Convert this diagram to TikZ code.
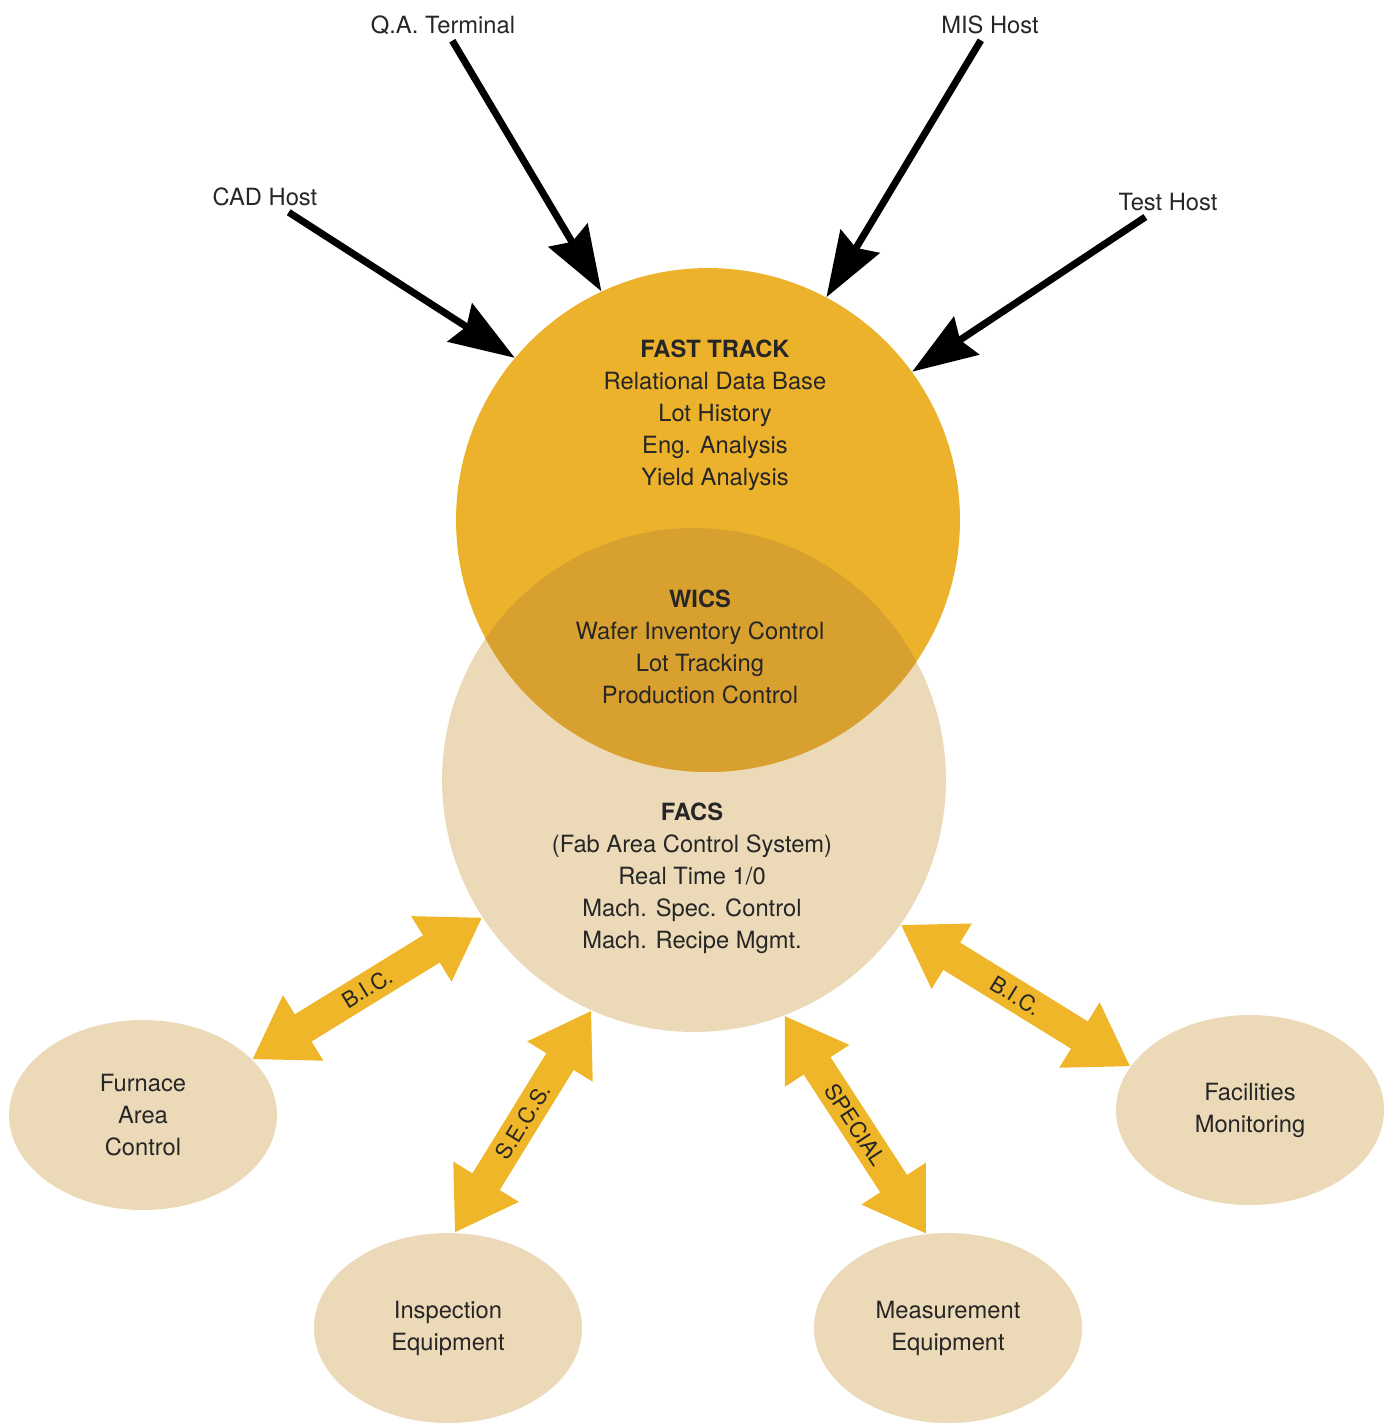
\documentclass[tikz,border=0pt]{standalone}
\usepackage{fontspec}
\setmainfont{TeX Gyre Heros}
\usetikzlibrary{arrows.meta, shapes.geometric}
\definecolor{fastorange}{RGB}{236,178,44}
\definecolor{wicsorange}{RGB}{216,160,46}
\definecolor{facsbeige}{RGB}{235,217,184}
\definecolor{bicgold}{RGB}{238,182,40}

\begin{document}
\begin{tikzpicture}[x=0.02cm, y=-0.02cm,
  txt/.style={align=center, font=\fontsize{13.5}{18.2}\selectfont, text=black!85},
  unit/.style={circle, minimum size=10.08cm, inner sep=0pt},
  station/.style={ellipse, fill=facsbeige, minimum width=5.36cm, minimum height=3.8cm, inner sep=0pt, txt},
  host/.style={line width=4pt, -{Stealth[length=1.3cm, width=0.9cm, inset=0.15cm]}},
  link/.style={line width=0.64cm, draw=bicgold, {Triangle[length=1.2cm, width=1.45cm]}-{Triangle[length=1.2cm, width=1.45cm]}},
  linktxt/.style={sloped, inner sep=1pt, font=\fontsize{12.5}{14}\selectfont, text=black!85}]
\useasboundingbox (0,0) rectangle (1388,1427);
% the two overlapping systems
\node[unit, fill=facsbeige] (facs) at (694,780) {};
\node[unit, fill=fastorange] (ft) at (708,520) {};
\begin{scope}
\clip (ft.center) circle (5.04cm);
\fill[wicsorange] (facs.center) circle (5.04cm);
\end{scope}
\node[txt] (fttxt) at (715,415) {\textbf{FAST TRACK}\\Relational Data Base\\Lot History\\Eng. Analysis\\Yield Analysis};
\node[txt] (wicstxt) at (700,647) {\textbf{WICS}\\Wafer Inventory Control\\Lot Tracking\\Production Control};
\node[txt] (facstxt) at (692,878) {\textbf{FACS}\\(Fab Area Control System)\\Real Time 1/0\\Mach. Spec. Control\\Mach. Recipe Mgmt.};
% hosts
\node[txt] (qa) at (443,25) {Q.A. Terminal};
\node[txt] (mis) at (990,25) {MIS Host};
\node[txt] (cad) at (265,197) {CAD Host};
\node[txt] (test) at (1168,202) {Test Host};
\draw[host] (qa) -- (ft.115);
\draw[host] (mis) -- (ft.62);
\draw[host] (cad) -- (ft.140);
\draw[host] (test) -- (ft.36);
% equipment
\node[station] (furn) at (143,1115) {Furnace\\Area\\Control};
\node[station] (insp) at (448,1328) {Inspection\\Equipment};
\node[station] (meas) at (948,1328) {Measurement\\Equipment};
\node[station] (fac) at (1250,1110) {Facilities\\Monitoring};
\draw[link] (facs.213) -- (furn.27) node[linktxt, pos=.5]{B.I.C.};
\draw[link] (facs.246) -- (insp.86) node[linktxt, pos=.5]{S.E.C.S.};
\draw[link] (facs.291) -- (meas.103) node[linktxt, pos=.5]{SPECIAL};
\draw[link] (facs.325) -- (fac.160) node[linktxt, pos=.5]{B.I.C.};
\end{tikzpicture}
\end{document}
